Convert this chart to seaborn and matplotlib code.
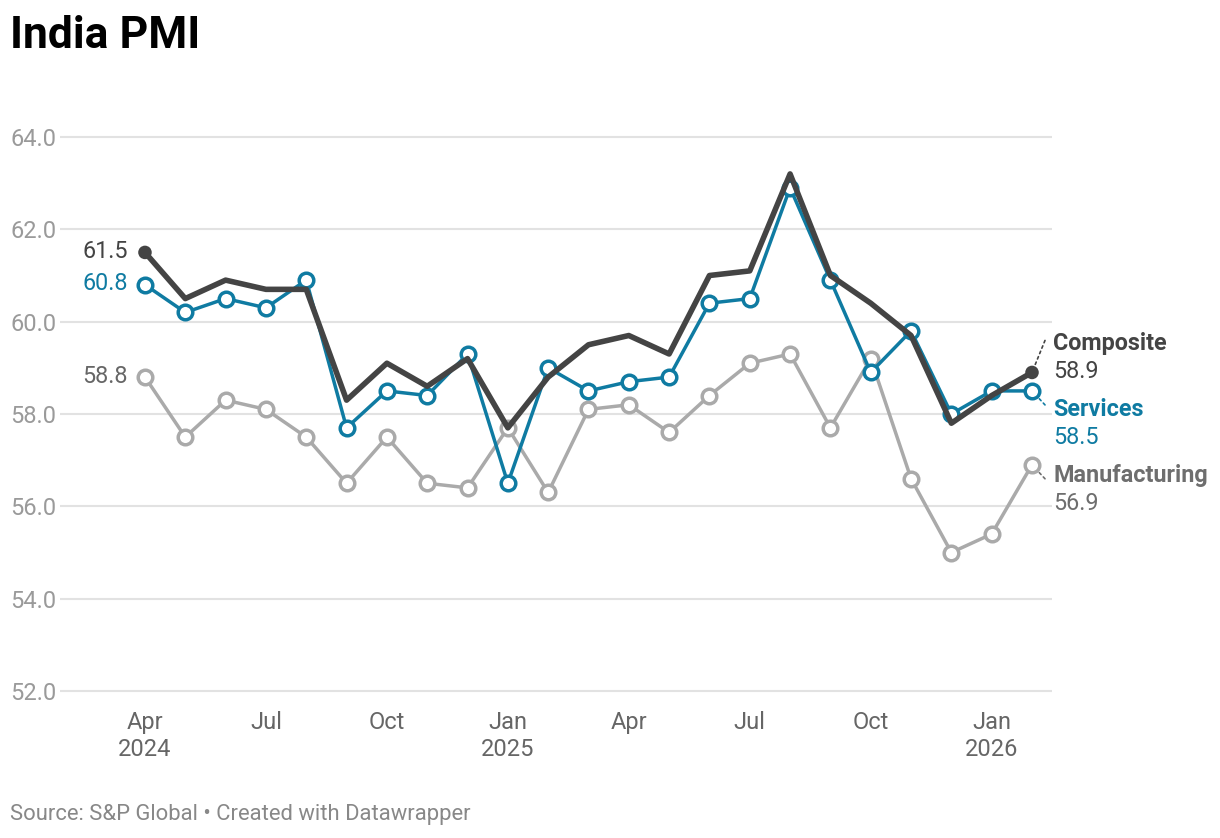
import matplotlib
matplotlib.use("Agg")
import matplotlib.pyplot as plt
import seaborn as sns
import pandas as pd

# monthly PMI readings, Apr 2024 .. Feb 2026
months = pd.date_range("2024-04-01", "2026-02-01", freq="MS")
composite = [61.5, 60.5, 60.9, 60.7, 60.7, 58.3, 59.1, 58.6, 59.2, 57.7, 58.8, 59.5,
             59.7, 59.3, 61.0, 61.1, 63.2, 61.0, 60.4, 59.7, 57.8, 58.4, 58.9]
services = [60.8, 60.2, 60.5, 60.3, 60.9, 57.7, 58.5, 58.4, 59.3, 56.5, 59.0, 58.5,
            58.7, 58.8, 60.4, 60.5, 62.9, 60.9, 58.9, 59.8, 58.0, 58.5, 58.5]
manufacturing = [58.8, 57.5, 58.3, 58.1, 57.5, 56.5, 57.5, 56.5, 56.4, 57.7, 56.3, 58.1,
                 58.2, 57.6, 58.4, 59.1, 59.3, 57.7, 59.2, 56.6, 55.0, 55.4, 56.9]

x_ticks = [0, 3, 6, 9, 12, 15, 18, 21]
x_labels = ["Apr\n2024", "Jul", "Oct", "Jan\n2025", "Apr", "Jul", "Oct", "Jan\n2026"]
y_ticks = [52, 54, 56, 58, 60, 62, 64]

C_COMP = "#444444"
C_SERV = "#0f7ba2"
C_MANU = "#aaaaaa"
C_MANU_TXT = "#6e6e6e"

sns.set_theme(style="white")
plt.rcParams["font.family"] = ["Roboto", "DejaVu Sans"]

df = pd.DataFrame({"idx": range(len(months)), "Composite": composite,
                   "Services": services, "Manufacturing": manufacturing})

fig = plt.figure(figsize=(12.2, 8.38), dpi=100)
ax = fig.add_axes([60 / 1220, 1 - 700 / 838, (1052 - 60) / 1220, 580 / 838])

open_marker = dict(marker="o", markersize=10.5, markerfacecolor="white", markeredgewidth=2.5)
sns.lineplot(data=df, x="idx", y="Manufacturing", ax=ax, color=C_MANU, linewidth=2.5,
             markeredgecolor=C_MANU, clip_on=False, zorder=3, **open_marker)
sns.lineplot(data=df, x="idx", y="Services", ax=ax, color=C_SERV, linewidth=2.5,
             markeredgecolor=C_SERV, clip_on=False, zorder=4, **open_marker)
sns.lineplot(data=df, x="idx", y="Composite", ax=ax, color=C_COMP, linewidth=4,
             clip_on=False, zorder=5)
ends = df.iloc[[0, -1]]
sns.scatterplot(data=ends, x="idx", y="Composite", ax=ax, color=C_COMP, s=95,
                edgecolor="none", zorder=6, clip_on=False)

px_per_unit = 554 / 12
ax.set_ylim(52 - 9 / px_per_unit, 64 + 17 / px_per_unit)
px_per_month = 121 / 3
ax.set_xlim(-85 / px_per_month, 22 + 20 / px_per_month)

ax.set_yticks(y_ticks)
ax.set_yticklabels([f"{v:.1f}" for v in y_ticks], ha="left")
ax.tick_params(axis="y", length=0, pad=36, labelsize=17, labelcolor="#9a9a9a")
ax.set_xticks(x_ticks)
ax.set_xticklabels(x_labels)
ax.tick_params(axis="x", length=0, pad=8, labelsize=17, labelcolor="#666666")
ax.grid(axis="y", color="#e2e2e2", linewidth=1.5)
ax.set_axisbelow(True)
for s in ax.spines.values():
    s.set_visible(False)
ax.set_xlabel("")
ax.set_ylabel("")

# start labels
for vals, col in [(composite, C_COMP), (services, C_SERV), (manufacturing, "#666666")]:
    ax.annotate(f"{vals[0]:.1f}", xy=(0, vals[0]), xytext=(-17, 1), textcoords="offset pixels",
                ha="right", va="center", fontsize=16.8, color=col)

# end labels with dotted leaders
last = len(months) - 1
end_items = [("Composite", composite, C_COMP, C_COMP, 29),
             ("Services", services, C_SERV, C_SERV, -19),
             ("Manufacturing", manufacturing, C_MANU_TXT, C_MANU_TXT, -11)]
for name, vals, col, numcol, dy in end_items:
    v = vals[-1]
    ax.annotate(name, xy=(last, v), xytext=(21, dy), textcoords="offset pixels",
                ha="left", va="center", fontsize=16.8, fontweight="bold", color=col)
    ax.annotate(f"{v:.1f}", xy=(last, v), xytext=(21, dy - 28), textcoords="offset pixels",
                ha="left", va="center", fontsize=16.8, color=numcol)
    lead = (13, 32) if dy > 0 else (13, -14)
    ax.annotate("", xy=(last, v), xytext=lead, textcoords="offset pixels",
                arrowprops=dict(arrowstyle="-", linestyle=(0, (1.5, 2)), color=col,
                                linewidth=1.2, shrinkA=0, shrinkB=6))

fig.text(10 / 1220, 1 - 36 / 838, "India PMI", fontsize=32, fontweight="bold",
         ha="left", va="center", color="#000000")
fig.text(10 / 1220, 1 - 814 / 838, "Source: S&P Global \u2022 Created with Datawrapper",
         fontsize=15.8, ha="left", va="center", color="#888888")

fig.savefig("out.png", dpi=100)
